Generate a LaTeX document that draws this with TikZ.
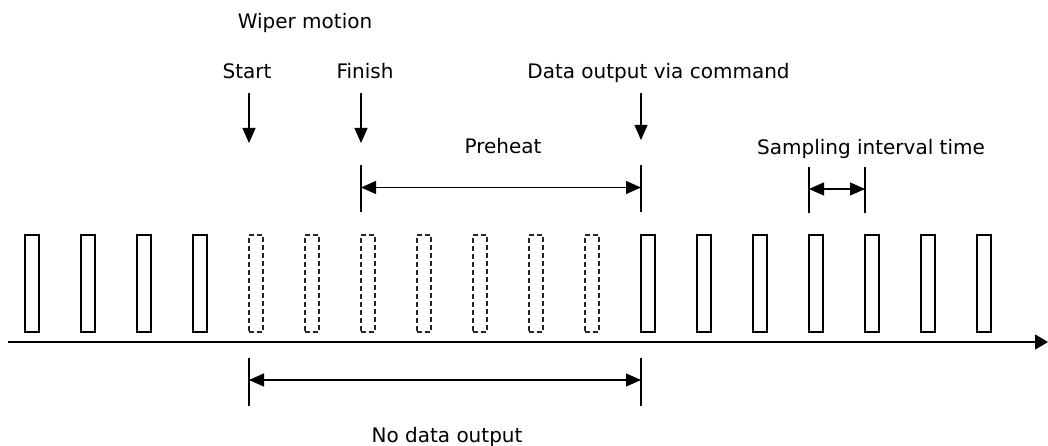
\documentclass[tikz,border=0pt]{standalone}
\usepackage{fontspec}
\setmainfont{DejaVu Sans}
\usetikzlibrary{arrows.meta}
\tikzset{
  pulse/.style={draw, line width=1.1pt, minimum width=14pt, minimum height=97pt, inner sep=0pt, outer sep=0pt},
  dpulse/.style={pulse, dash pattern=on 5pt off 3pt, draw=black!85},
  lbl/.style={anchor=base, inner sep=0pt, font=\fontsize{20}{23}\selectfont},
  tick/.style={line width=1.2pt},
  darrow/.style={line width=1.2pt, -{Triangle[length=15pt,width=13pt]}},
  dim/.style={line width=1.2pt, {Triangle[length=15pt,width=13pt]}-{Triangle[length=15pt,width=13pt]}},
}
\begin{document}
\begin{tikzpicture}[x=1pt,y=-1pt]
\useasboundingbox (0,0) rectangle (1048,446);
% pulses
\foreach \i in {1,...,4,12,13,...,18} {
  \node[pulse] (p\i) at ({32+56*(\i-1)},283.5) {};
}
\foreach \i in {5,...,11} {
  \node[dpulse] (p\i) at ({32+56*(\i-1)},283.5) {};
}
% time axis
\coordinate (ax0) at (8,342);
\coordinate (ax1) at (1048,342);
\draw[line width=1.4pt, -{Triangle[length=13pt,width=15pt]}] (ax0) -- (ax1);
% labels
\node[lbl] (wiper) at (305,29) {Wiper motion};
\node[lbl] (start) at (247,79) {Start};
\node[lbl] (finish) at (365,79) {Finish};
\node[lbl] (dataout) at (658.5,79) {Data output via command};
\node[lbl] (preheat) at (503,154) {Preheat};
\node[lbl] (sampling) at (871,155) {Sampling interval time};
\node[lbl] (nodata) at (447,442) {No data output};
% down arrows
\coordinate (sa) at (249,93);  \coordinate (sb) at (249,143);
\coordinate (fa) at (361,93);  \coordinate (fb) at (361,143);
\coordinate (da) at (641,93);  \coordinate (db) at (641,140);
\draw[darrow] (sa) -- (sb);
\draw[darrow] (fa) -- (fb);
\draw[darrow] (da) -- (db);
% preheat dimension
\coordinate (ph1t) at (361,165); \coordinate (ph1b) at (361,212);
\coordinate (ph2t) at (641,165); \coordinate (ph2b) at (641,212);
\coordinate (ph1) at (361,187.5); \coordinate (ph2) at (641,187.5);
\draw[tick] (ph1t) -- (ph1b);
\draw[tick] (ph2t) -- (ph2b);
\draw[dim] (ph1) -- (ph2);
% sampling dimension
\coordinate (sp1t) at (809,167); \coordinate (sp1b) at (809,213);
\coordinate (sp2t) at (865,167); \coordinate (sp2b) at (865,213);
\coordinate (sp1) at (809,189); \coordinate (sp2) at (865,189);
\draw[tick] (sp1t) -- (sp1b);
\draw[tick] (sp2t) -- (sp2b);
\draw[dim] (sp1) -- (sp2);
% no data dimension
\coordinate (nd1t) at (249,358); \coordinate (nd1b) at (249,406);
\coordinate (nd2t) at (641,358); \coordinate (nd2b) at (641,406);
\coordinate (nd1) at (249,380); \coordinate (nd2) at (641,380);
\draw[tick] (nd1t) -- (nd1b);
\draw[tick] (nd2t) -- (nd2b);
\draw[dim] (nd1) -- (nd2);
\end{tikzpicture}
\end{document}
